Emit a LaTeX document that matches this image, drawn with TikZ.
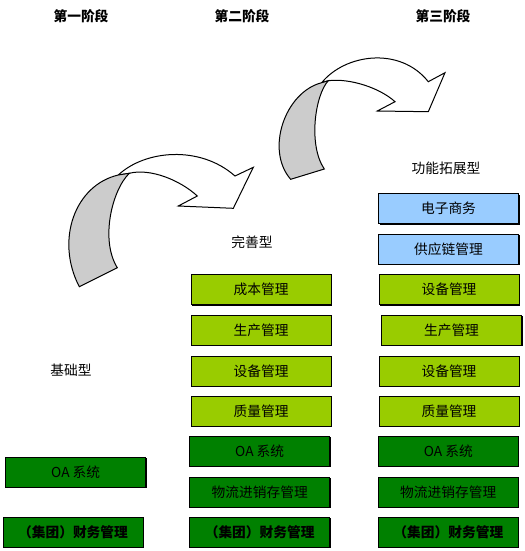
\documentclass[tikz,border=0pt]{standalone}
\usepackage{fontspec}
\newfontfamily\cjk{Noto Sans CJK SC}
\usetikzlibrary{shadows}
\definecolor{lgreen}{HTML}{99CC00}
\definecolor{dgreen}{HTML}{008000}
\definecolor{lblue}{HTML}{99CCFF}
\definecolor{arrgray}{HTML}{CCCCCC}
\tikzset{
  box/.style={draw=black, line width=0.75pt, minimum width=105pt, minimum height=22.5pt,
    inner sep=0pt, outer sep=0pt, font=\cjk\fontsize{10.3}{12}\selectfont,
    drop shadow={shadow xshift=0.75pt, shadow yshift=-0.75pt, fill=black, opacity=1}},
  gbox/.style={box, fill=lgreen},
  dbox/.style={box, fill=dgreen},
  bbox/.style={box, fill=lblue},
  fin/.style={dbox, font=\cjk\bfseries\fontsize{10.3}{12}\selectfont},
  head/.style={font=\cjk\bfseries\fontsize{10.3}{12}\selectfont},
  lab/.style={font=\cjk\fontsize{10.3}{12}\selectfont},
  arrbody/.style={draw=black, line width=0.75pt, fill=white, line join=miter},
  arrtail/.style={draw=black, line width=0.75pt, fill=arrgray},
}
\begin{document}
\begin{tikzpicture}[x=0.75pt, y=-0.75pt]
\useasboundingbox (0,0) rectangle (525,551);
% headings
\node[head] (h1) at (81,16) {第一阶段};
\node[head] (h2) at (242,16) {第二阶段};
\node[head] (h3) at (443,16) {第三阶段};
% type labels
\node[lab] (t1) at (71,370) {基础型};
\node[lab] (t2) at (252,242) {完善型};
\node[lab] (t3) at (446,168) {功能拓展型};
% column 1
\node[dbox] (c1oa) at (75.7,472.3) {OA 系统};
\node[fin] (c1fin) at (73,532.3) {（集团）财务管理};
% column 2
\node[gbox] (c2a) at (261.2,289.7) {成本管理};
\node[gbox] (c2b) at (261.2,330.2) {生产管理};
\node[gbox] (c2c) at (261.2,371) {设备管理};
\node[gbox] (c2d) at (261.2,411.2) {质量管理};
\node[dbox] (c2oa) at (259.7,451.3) {OA 系统};
\node[dbox] (c2wl) at (259.7,492.3) {物流进销存管理};
\node[fin] (c2fin) at (259.7,532.3) {（集团）财务管理};
% column 3
\node[bbox] (c3a) at (448.5,208.7) {电子商务};
\node[bbox] (c3b) at (448.5,249.3) {供应链管理};
\node[gbox] (c3c) at (449,289.7) {设备管理};
\node[gbox] (c3d) at (451.5,330.2) {生产管理};
\node[gbox] (c3e) at (449,371) {设备管理};
\node[gbox] (c3f) at (449,411.2) {质量管理};
\node[dbox] (c3oa) at (448.3,451.3) {OA 系统};
\node[dbox] (c3wl) at (448.3,492.3) {物流进销存管理};
\node[fin] (c3fin) at (448.3,532.3) {（集团）财务管理};
% arrow 1
\coordinate (a1A) at (118.3,175);
\coordinate (a1B) at (129.3,173.3);
\draw[arrbody] (a1A) .. controls (145,150) and (200,145) .. (235,176)
  -- (253.3,167.3) -- (233.3,208.3) -- (178.3,206) -- (197.3,196)
  .. controls (180,180) and (150,168) .. (a1B) -- cycle;
\draw[arrtail] (a1A) .. controls (75,185) and (55,240) .. (79.3,286.7)
  -- (117.3,267.7) .. controls (100,240) and (112,190) .. (a1B) -- cycle;
% arrow 2
\coordinate (a2A) at (321.7,82.7);
\coordinate (a2B) at (328.3,80.7);
\draw[arrbody] (a2A) .. controls (345,54) and (400,46) .. (428.3,81.7)
  -- (445,72.7) -- (428.3,111.7) -- (377.3,111) -- (395,101.7)
  .. controls (380,88) and (350,78) .. (a2B) -- cycle;
\draw[arrtail] (a2A) .. controls (285,92) and (265,150) .. (290.7,179.3)
  -- (324.3,169) .. controls (308,145) and (315,95) .. (a2B) -- cycle;
\end{tikzpicture}
\end{document}
